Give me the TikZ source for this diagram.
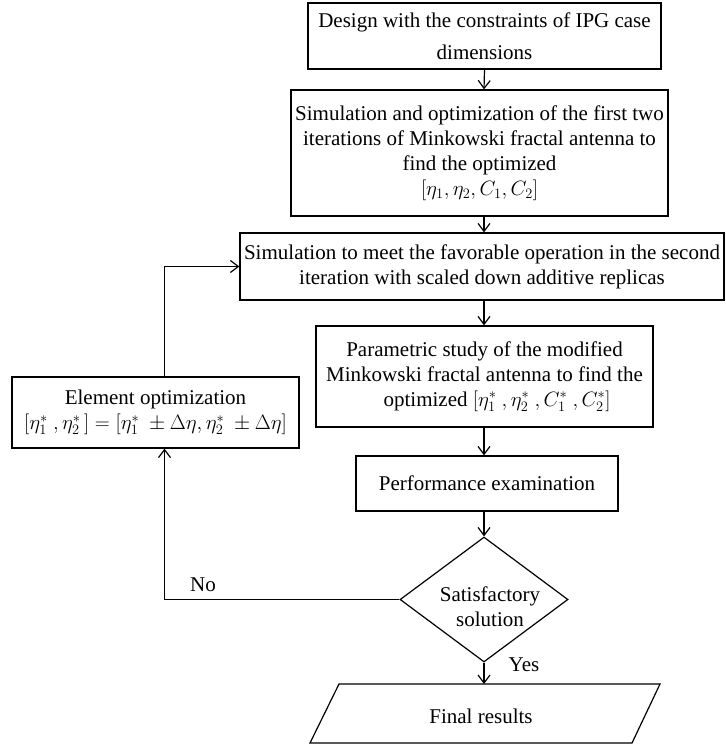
\documentclass[tikz,border=0pt]{standalone}
\usepackage{fontspec}
\setmainfont{Liberation Serif}
\usetikzlibrary{arrows.meta,shapes.geometric}
\begin{document}
\begin{tikzpicture}[x=1pt,y=-1pt,
  txt/.style={font=\fontsize{21}{25}\selectfont},
  box/.style={txt,draw,line width=1.2pt,rectangle,inner sep=0pt,align=center},
  arr/.style={line width=1.2pt,-{Straight Barb[length=8pt,width=12pt,line width=1.2pt]}},
  plain/.style={line width=1.2pt}]
\useasboundingbox (0,0) rectangle (725,746);
\coordinate (axis) at (484,0);
\coordinate (fb) at (164.5,0);
\node[box,minimum width=353pt,minimum height=66pt] (b1) at (484.5,36)
  {Design with the constraints of IPG case\\[7pt]dimensions};
\node[box,minimum width=377pt,minimum height=126pt] (b2) at (479.5,153)
  {Simulation and optimization of the first two\\iterations of Minkowski fractal antenna to\\find the optimized\\$[\eta_1,\eta_2,C_1,C_2]$};
\node[box,minimum width=484pt,minimum height=67pt] (b3) at (482,266.5)
  {Simulation to meet the favorable operation in the second\\iteration with scaled down additive replicas};
\node[box,minimum width=337pt,minimum height=101pt] (b4) at (484.5,376.5)
  {Parametric study of the modified\\Minkowski fractal antenna to find the\\\hspace*{1.2em}optimized $[\eta_1^*\ ,\eta_2^*\ ,C_1^*\ ,C_2^*]$};
\node[box,minimum width=262pt,minimum height=55pt] (b5) at (487,483.5)
  {Performance examination};
\node[box,minimum width=287pt,minimum height=71pt] (el) at (155.5,412.5)
  {Element optimization\\$[\eta_1^*\ ,\eta_2^*\,]=[\eta_1^*\ \pm\Delta\eta,\eta_2^*\ \pm\Delta\eta]$};
\node[draw,line width=1.2pt,diamond,minimum width=168pt,minimum height=125pt,inner sep=0pt] (dia) at (484,599.5) {};
\node[txt,align=center] (diatxt) at (490,607) {Satisfactory\\solution};
\coordinate (frtop) at (484,684);
\draw[plain] (310,743) -- (339,684) -- (660,684) -- (632,743) -- cycle;
\node[txt] (fr) at (481,716) {Final results};
\node[txt] (no) at (203,585) {No};
\node[txt] (yes) at (524,665) {Yes};
\draw[arr] (b1.south) -- (axis |- b2.north);
\draw[arr] (axis |- b2.south) -- (axis |- b3.north);
\draw[arr] (axis |- b3.south) -- (axis |- b4.north);
\draw[arr] (axis |- b4.south) -- (axis |- b5.north);
\draw[arr] (axis |- b5.south) -- (dia.north);
\draw[arr] (dia.south) -- (frtop);
\draw[arr] (dia.west) -- (fb |- dia.west) -- (fb |- el.south);
\draw[arr] (fb |- el.north) -- (fb |- b3.west) -- (b3.west);
\end{tikzpicture}
\end{document}
